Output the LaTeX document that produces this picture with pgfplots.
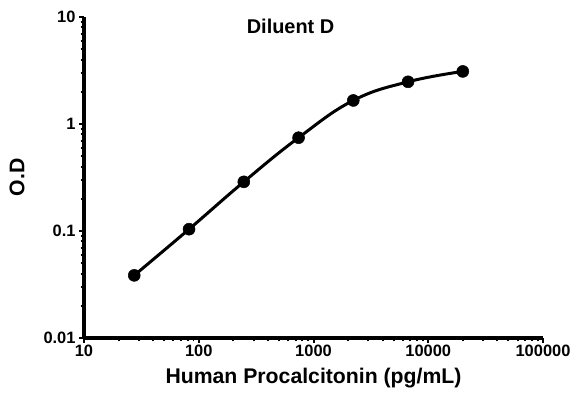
\documentclass[border=0pt]{standalone}
\usepackage{pgfplots}
\pgfplotsset{compat=1.18}
\usepackage{fontspec}
\setmainfont{Liberation Sans}
\newcommand{\tl}[1]{\textbf{\fontsize{16.5}{18}\selectfont #1}}
\begin{document}
\begin{tikzpicture}
\path[use as bounding box] (-84bp,-60bp) rectangle (495bp,338bp);
\begin{axis}[
  at={(0,0)}, anchor=south west,
  scale only axis, width=459bp, height=321bp,
  xmode=log, ymode=log,
  xmin=10, xmax=100000, ymin=0.01, ymax=10,
  axis lines=left,
  axis line style={line width=4pt, -},
  every tick/.style={black, line width=2pt},
  major tick length=5bp, minor tick length=3.5bp,
  tick align=outside,
  xtick={10,100,1000,10000,100000},
  xticklabels={\tl{10},\tl{100},\tl{1000},\tl{10000},\tl{100000}},
  ytick={0.01,0.1,1,10},
  yticklabels={\tl{0.01},\tl{0.1},\tl{1},\tl{10}},
  xticklabel style={yshift=1bp},
  xlabel={\textbf{Human Procalcitonin (pg/mL)}},
  ylabel={\textbf{O.D}},
  label style={font=\fontsize{21.3}{24}\selectfont},
  xlabel style={yshift=-4bp},
  ylabel style={yshift=12bp},
  clip=false,
]
\addplot[black, line width=3pt, smooth, tension=0.7, mark=*, mark size=6bp,
  mark options={fill=black, line width=0.5pt}]
  coordinates {
  (27.4,0.0385) (82.3,0.104) (247,0.288) (741,0.745) (2222,1.66) (6667,2.48) (20000,3.1)
  };
\node[font=\fontsize{20}{22}\selectfont\bfseries] at (rel axis cs:0.45,0.97) {Diluent D};
\end{axis}
\end{tikzpicture}
\end{document}
